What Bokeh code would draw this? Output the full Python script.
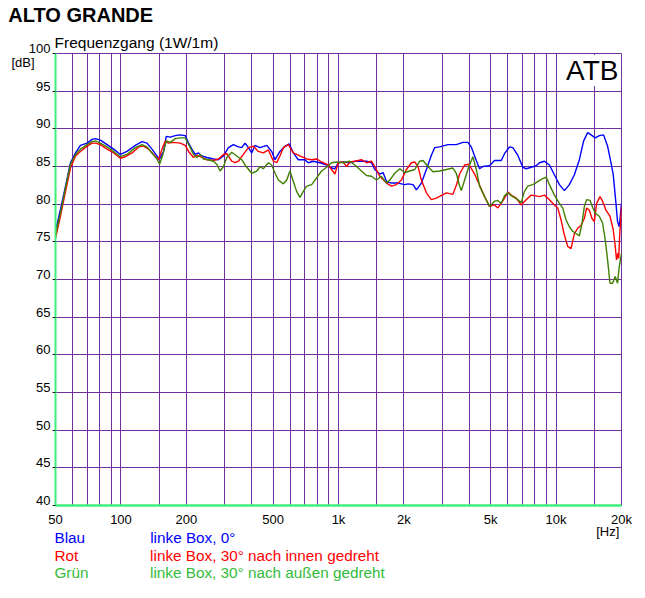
from bokeh.plotting import figure
from bokeh.models import Range1d, FixedTicker, Label, LinearAxis, LogAxis
from bokeh.embed import file_html
from bokeh.resources import INLINE

# ---------------- data ----------------
freq_blue = [50, 52.7, 55.6, 58.6, 61.8, 65.1, 69.9, 73.7, 76.3, 80.4, 86.3, 92.6, 99.4, 106.6,
             116.4, 124.9, 131.7, 138.8, 146.3, 150.5, 157, 161.5, 168.5, 177.6, 187.2, 197.4,
             204.5, 211.8, 219.4, 227.2, 235.3, 248.1, 266.2, 280.6, 295.9, 311.9, 328.8, 346.7,
             359, 371.9, 385.3, 399, 413, 436, 468, 493, 511, 538, 568, 594, 620, 653, 701, 726,
             766, 822, 882, 930, 963, 997, 1051, 1128, 1189, 1253, 1345, 1418, 1468, 1548, 1603,
             1662, 1752, 1878, 2016, 2088, 2201, 2281, 2405, 2535, 2673, 2767, 2917, 3186, 3480,
             3732, 3934, 4078, 4300, 4453, 4610, 4947, 5215, 5598, 5797, 6111, 6328, 6672, 7034,
             7291, 7687, 8102, 8390, 8846, 9325, 9830, 10364, 10927, 11520, 12142, 12805, 13397,
             13974, 14487, 15159, 15811, 16546, 17261, 17890, 18330, 18860, 19180, 19530, 20000]
db_blue = [76.4, 79.3, 82.4, 85.5, 86.8, 87.8, 88.1, 88.6, 88.7, 88.5, 87.9, 87.3, 86.6, 87.0,
           87.8, 88.3, 88.1, 87.3, 86.4, 86.0, 87.0, 89.0, 88.9, 89.1, 89.2, 89.1,
           88.1, 87.3, 86.6, 86.8, 86.4, 86.2, 86.0, 85.9, 86.4, 87.5, 87.9, 87.6,
           87.5, 88.1, 87.5, 86.8, 87.8, 87.5, 87.8, 87.0, 85.9, 87.0, 87.7, 88.0, 86.8, 85.9, 85.9, 85.5,
           85.7, 85.5, 85.2, 84.8, 84.7, 85.5, 85.6, 85.5, 85.7, 85.7, 85.7, 85.5, 84.6, 84.0, 84.2,
           83.0, 82.8, 82.8, 82.6, 82.7, 82.6, 81.9, 82.8, 84.6, 86.5, 87.5, 87.6, 87.9, 87.9,
           88.2, 88.2, 87.6, 85.8, 84.7, 85.0, 85.1, 85.8, 85.8, 86.7, 87.6, 87.5, 86.5, 84.9,
           84.7, 84.9, 85.1, 85.5, 85.7, 85.2, 83.9, 82.6, 81.8, 82.6, 83.9, 85.9, 88.4,
           89.5, 89.2, 88.8, 89.1, 89.2, 87.7, 85.5, 83.9, 80.1, 77.7, 77.0, 80.1]

freq_red = [50, 52.7, 55.6, 58.6, 61.8, 65.1, 69.9, 73.7, 76.3, 80.4, 86.3, 92.6, 99.4, 104.7,
            112.4, 120.6, 127.1, 134, 141.3, 148.9, 154.3, 159.8, 165.5, 174.5, 187.2, 197.4,
            204.5, 215.5, 223.3, 235.3, 248.1, 266.2, 280.6, 295.9, 306.6, 323, 334.6, 346.7,
            365.4, 385.3, 406, 428, 451, 476, 502, 520, 538, 558, 588, 620, 665, 714, 753, 793,
            836, 897, 963, 997, 1051, 1089, 1128, 1189, 1276, 1345, 1418, 1468, 1548, 1662, 1752,
            1847, 1947, 2053, 2164, 2241, 2320, 2405, 2535, 2673, 2817, 3132, 3357, 3480, 3604,
            3800, 3976, 4224, 4453, 4694, 4947, 5215, 5400, 5598, 5797, 6004, 6223, 6561, 6916,
            7291, 7687, 8102, 8390, 8846, 9325, 9830, 10182, 10553, 10927, 11314, 11727, 12142,
            12577, 13034, 13496, 13827, 14227, 14641, 15000, 15372, 15929, 16372, 16971, 17703,
            18330, 18718, 18977, 19259, 19424, 19590, 20000]
db_red = [75.5, 78.4, 81.7, 84.8, 86.4, 87.0, 87.7, 88.1, 88.1, 87.9, 87.3, 86.8, 86.1, 86.3,
          86.8, 87.6, 87.7, 87.3, 86.6, 85.9, 87.3, 88.4, 88.1, 88.2, 88.1, 87.8,
          87.0, 86.2, 86.5, 86.2, 85.9, 85.8, 86.0, 86.6, 86.7, 85.7, 85.5, 85.7,
          86.6, 87.5, 87.7, 87.0, 86.8, 87.2, 85.7, 85.5, 86.4, 87.5, 87.9, 86.8, 86.4, 86.0, 85.9, 86.0,
          85.6, 85.2, 84.0, 85.5, 85.6, 85.0, 85.6, 85.7, 85.9, 85.5, 85.7, 85.0, 83.7, 82.8, 82.4,
          82.6, 83.2, 84.6, 85.5, 85.6, 85.0, 83.2, 81.5, 80.6, 80.8, 81.5, 81.3, 82.5, 84.0,
          85.2, 85.3, 84.0, 82.5, 81.0, 79.7, 79.9, 79.5, 80.1, 80.8, 81.6, 81.2, 80.8, 79.9,
          80.6, 81.2, 81.1, 81.0, 81.2, 80.6, 79.9, 79.5, 77.9, 75.9, 74.4, 74.1, 76.1,
          76.8, 77.2, 78.1, 79.5, 79.2, 78.1, 77.7, 80.1, 81.0, 80.4, 79.2, 78.4,
          76.6, 74.4, 72.6, 73.5, 72.8, 75.5, 79.7]

freq_green = [50, 52.7, 55.6, 58.6, 61.8, 65.1, 69.9, 73.7, 76.3, 80.4, 86.3, 92.6, 99.4, 106.6,
              116.4, 124.9, 131.7, 138.8, 146.3, 150.5, 155.9, 161.5, 168.5, 177.6, 187.2, 197.4,
              206.6, 215.5, 223.3, 231.2, 239.5, 252.5, 266.2, 275.7, 285.6, 295.9, 306.6, 323,
              340.6, 359, 371.9, 399, 421, 436, 451, 476, 493, 511, 529, 558, 578, 598, 620, 642,
              665, 689, 714, 753, 793, 836, 882, 930, 980, 1051, 1128, 1189, 1253, 1345, 1418,
              1495, 1576, 1662, 1721, 1814, 1913, 2016, 2125, 2241, 2362, 2446, 2578, 2718, 2917,
              3132, 3357, 3480, 3604, 3670, 3800, 3976, 4148, 4300, 4453, 4694, 4947, 5215, 5400,
              5598, 5797, 6004, 6328, 6672, 6916, 7160, 7417, 7820, 8242, 8688, 9007, 9325, 9830,
              10364, 10733, 11125, 11520, 11924, 12366, 12805, 13172, 13496, 13827, 14332, 14731,
              15159, 15811, 16372, 16848, 17261, 17703, 18195, 18718, 19180, 19530, 20000]
db_green = [76.0, 78.8, 82.2, 85.3, 86.6, 87.3, 87.9, 88.3, 88.4, 88.1, 87.6, 87.0, 86.3, 86.6,
            87.5, 87.9, 87.6, 86.8, 86.0, 85.3, 86.6, 88.4, 88.2, 88.7, 88.8, 88.8,
            87.7, 86.6, 86.2, 86.6, 86.0, 85.9, 85.7, 85.3, 84.4, 85.0, 86.2, 86.9,
            86.4, 85.9, 85.2, 84.1, 84.4, 85.0, 84.7, 85.5, 85.2, 84.1, 83.2, 82.7, 83.2, 84.4, 83.0, 81.7,
            80.9, 81.7, 82.4, 82.6, 83.5, 84.4, 84.9, 85.5, 85.6, 85.5, 85.7, 85.2, 84.6, 83.8, 83.7,
            83.2, 83.7, 82.8, 83.2, 84.1, 84.7, 84.2, 84.4, 84.6, 85.7, 85.8, 85.0, 84.3, 84.4,
            84.6, 84.8, 84.1, 82.4, 81.8, 83.2, 85.0, 86.3, 84.6, 82.4, 81.0, 79.7, 80.4, 80.5,
            80.1, 81.1, 81.5, 81.0, 80.6, 80.2, 81.7, 82.4, 82.6, 83.0, 83.4, 83.6, 82.6, 81.2,
            80.1, 79.5, 77.9, 77.0, 76.4, 76.1, 75.8, 77.5, 79.7, 80.6, 80.5, 79.6,
            78.8, 78.4, 77.5, 75.2, 72.6, 69.5, 69.5, 70.4, 69.5, 71.7, 73.5]

grid_freqs = [50, 60, 70, 80, 90, 100, 150, 200, 300, 400, 500, 600, 700, 800, 900,
              1000, 1500, 2000, 3000, 4000, 5000, 6000, 7000, 8000, 9000, 10000, 15000, 20000]
x_tick_values = [50, 100, 200, 500, 1000, 2000, 5000, 10000, 20000]
x_tick_labels = ["50", "100", "200", "500", "1k", "2k", "5k", "10k", "20k"]
y_tick_values = [40, 45, 50, 55, 60, 65, 70, 75, 80, 85, 90, 95, 100]

chart_title = "ALTO GRANDE"
chart_subtitle = "Frequenzgang (1W/1m)"
legend_names = ["Blau", "Rot", "Grün"]
legend_texts = ["linke Box, 0°", "linke Box, 30° nach innen gedreht", "linke Box, 30° nach außen gedreht"]
legend_colors = ["#0000ff", "#ff0000", "#33bb3a"]
curve_colors = ["#0000ff", "#ff0000", "#408000"]
# where the (centred) texts sit along the frequency axis
title_pos = 65.3
subtitle_pos = 117.8
legend_name_pos = [58.16, 56.10, 59.20]
legend_text_pos = [213.9, 457.1, 471.3]
hz_unit_pos = 17282
db_unit_pos = 98.8

FONT = "Liberation Sans"
GRID = "#7030a0"
AXIS_GREEN = "#3cf07c"

p = figure(width=645, height=598, x_axis_type="log",
           x_range=Range1d(50, 20000), y_range=Range1d(40, 100),
           output_backend="svg", toolbar_location=None,
           min_border_left=55, min_border_right=24, min_border_top=53, min_border_bottom=93)
p.background_fill_color = "white"
p.border_fill_color = "white"
p.outline_line_color = GRID
p.outline_line_width = 1

p.xgrid.ticker = FixedTicker(ticks=grid_freqs)
p.ygrid.ticker = FixedTicker(ticks=y_tick_values)
for g in (p.xgrid, p.ygrid):
    g.grid_line_color = GRID
    g.grid_line_width = 1
    g.grid_line_alpha = 1.0

xa = p.xaxis[0]
xa.ticker = FixedTicker(ticks=x_tick_values, minor_ticks=[])
xa.major_label_overrides = {v: s for v, s in zip(x_tick_values, x_tick_labels)}
xa.major_tick_out = 0
xa.major_tick_in = 0
xa.minor_tick_out = 0
xa.minor_tick_in = 0
xa.major_label_standoff = 6
xa.axis_line_color = AXIS_GREEN
xa.axis_line_width = 2.5

ya = p.yaxis[0]
ya.ticker = FixedTicker(ticks=y_tick_values, minor_ticks=[])
ya.major_label_overrides = {v: f"{v}\n" for v in y_tick_values}
ya.major_label_text_line_height = 0.68
ya.major_tick_out = 3
ya.major_tick_in = 0
ya.minor_tick_out = 0
ya.minor_tick_in = 0
ya.major_tick_line_color = "#202020"
ya.major_label_standoff = 2
ya.axis_line_color = AXIS_GREEN
ya.axis_line_width = 2

for ax in (xa, ya):
    ax.major_label_text_font = FONT
    ax.major_label_text_font_size = "13px"
    ax.major_label_text_color = "black"

def text_axis(kind, ticks, labels, standoff, size, color, style="normal", line_height=1.2):
    return kind(ticker=FixedTicker(ticks=ticks, minor_ticks=[]),
                major_label_overrides=dict(zip(ticks, labels)),
                axis_line_color=None, major_tick_line_color=None, minor_tick_line_color=None,
                major_tick_out=0, major_tick_in=0, minor_tick_out=0, minor_tick_in=0,
                major_label_standoff=standoff, major_label_text_font=FONT,
                major_label_text_font_size=size, major_label_text_color=color,
                major_label_text_font_style=style,
                major_label_text_line_height=line_height)

# titles above the frame
p.add_layout(text_axis(LogAxis, [subtitle_pos], [chart_subtitle], 3, "15.5px", "black"), "above")
p.add_layout(text_axis(LogAxis, [title_pos], ["\n" + chart_title], 5, "20px", "black", "bold",
                       line_height=-0.3), "above")

# unit "[dB]" left of the value labels
p.add_layout(text_axis(LinearAxis, [db_unit_pos], ["[dB]"], -9, "13px", "black"), "left")

# unit "[Hz]" and the legend rows below the frequency labels
p.add_layout(text_axis(LogAxis, [hz_unit_pos], ["[Hz]"], -6, "13px", "black"), "below")
row_standoffs = [-13, -2, -3]
for i in range(3):
    p.add_layout(text_axis(LogAxis, [legend_name_pos[i], legend_text_pos[i]],
                           [legend_names[i], legend_texts[i]], row_standoffs[i], "15.3px",
                           legend_colors[i]), "below")

p.line(freq_blue, db_blue, line_color=curve_colors[0], line_width=1.4)
p.line(freq_red, db_red, line_color=curve_colors[1], line_width=1.4)
p.line(freq_green, db_green, line_color=curve_colors[2], line_width=1.4)

p.add_layout(Label(x=563, y=435, x_units="screen", y_units="screen", text="ATB",
                   text_font=FONT, text_font_size="28px", text_color="black",
                   text_align="right", text_baseline="middle",
                   background_fill_color="white"))

open("out.html", "w").write(file_html(p, INLINE))
